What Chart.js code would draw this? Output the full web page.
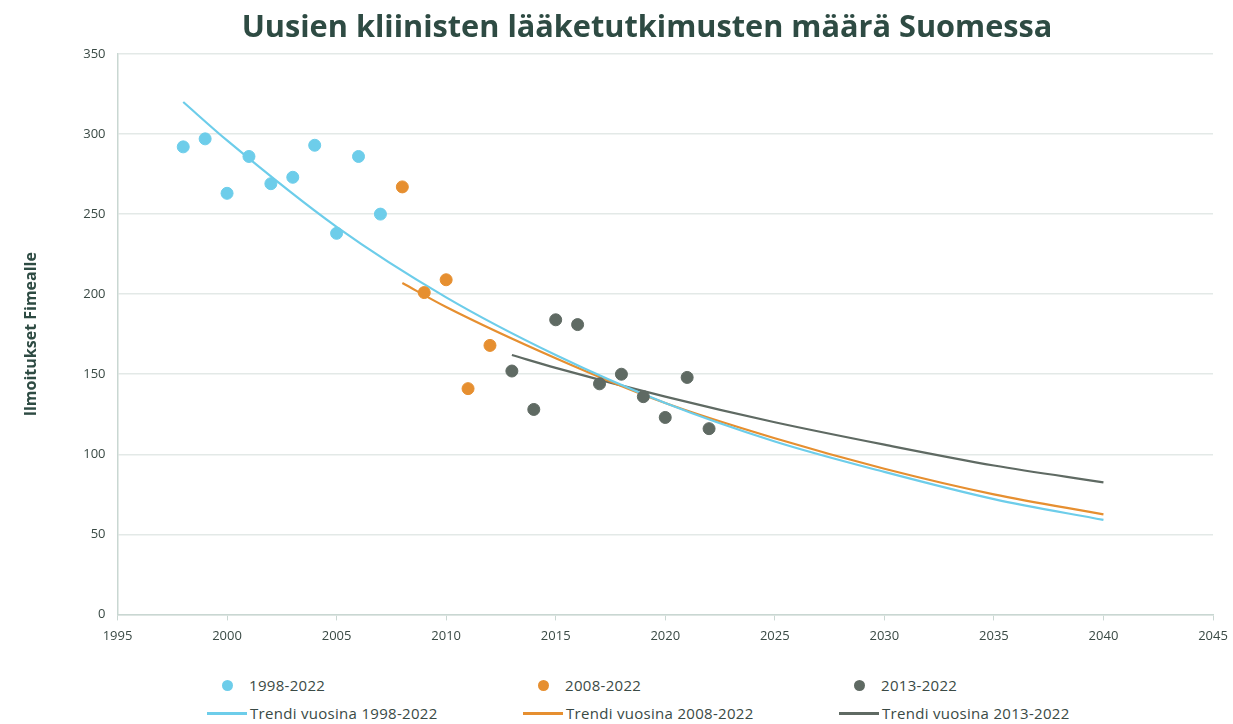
<!DOCTYPE html>
<html lang="fi">
<head>
    <meta charset="UTF-8">
    <meta name="viewport" content="width=device-width, initial-scale=1.0">
    <script src="https://cdn.jsdelivr.net/npm/chart.js"></script>
    <title>Kliiniset lääketutkimukset</title>
    <style>
        body { margin: 0; background: #fff; font-family: "Open Sans", sans-serif; }
        #wrap { position: relative; width: 1233px; height: 724px; }
        h1 {
            position: absolute; left: 0; top: 6px; width: 1233px; margin: 0;
            box-sizing: border-box; padding-left: 61px; text-align: center;
            font-size: 30.7px; line-height: 38px; font-weight: bold; color: #2e4b43;
        }
        #chart { position: absolute; left: 0; top: 0; width: 1233px; height: 652px; }
        #legend {
            position: absolute; left: 0; top: 674px; width: 1233px;
            display: grid; grid-template-columns: 316px 316px 316px;
            padding-left: 207px; row-gap: 6px;
            font-size: 15px; color: #3a4a45; letter-spacing: 0.3px;
        }
        .item { display: flex; align-items: center; height: 22px; }
        .dot { width: 11px; height: 11px; border-radius: 50%; margin: 0 16px 0 15px; }
        .line { width: 40px; height: 3px; margin-right: 3px; }
    </style>
</head>
<body>
<div id="wrap">
    <div id="chart"><canvas id="trialsChart"></canvas></div>
    <h1>Uusien kliinisten lääketutkimusten määrä Suomessa</h1>
    <div id="legend"></div>
</div>
<script>
    // havaitut vuosittaiset määrät
    const years98 = [1998, 1999, 2000, 2001, 2002, 2003, 2004, 2005, 2006, 2007]
    const counts98 = [292, 297, 263, 286, 269, 273, 293, 238, 286, 250]
    const years08 = [2008, 2009, 2010, 2011, 2012]
    const counts08 = [267, 201, 209, 141, 168]
    const years13 = [2013, 2014, 2015, 2016, 2017, 2018, 2019, 2020, 2021, 2022]
    const counts13 = [152, 128, 184, 181, 144, 150, 136, 123, 148, 116]

    // trendikäyrät luettu kuvasta
    const trendYears98 = [1998, 2000, 2005, 2010, 2015, 2020, 2025, 2030, 2035, 2040]
    const trend98 = [320, 296, 242, 198, 162, 132, 108, 89, 72, 59]
    const trendYears08 = [2008, 2010, 2015, 2020, 2025, 2030, 2035, 2040]
    const trend08 = [207, 192, 160, 132, 110, 91, 75, 62.5]
    const trendYears13 = [2013, 2015, 2020, 2025, 2030, 2035, 2040]
    const trend13 = [162, 154, 136, 120, 106, 93, 82.5]

    const xTicks = [1995, 2000, 2005, 2010, 2015, 2020, 2025, 2030, 2035, 2040, 2045]

    const blue = '#6dcdea'
    const orange = '#e68f30'
    const grey = '#5f6a63'
    const textColor = '#3a4a45'

    const pts = (xs, ys) => xs.map((x, i) => ({ x: x, y: ys[i] }))

    const ctx = document.getElementById("trialsChart").getContext("2d")
    const trialsChart = new Chart(ctx, {
        type: "scatter",
        data: {
            datasets: [
                { label: '1998-2022', data: pts(years98, counts98), backgroundColor: blue, borderColor: blue, pointRadius: 6, pointHoverRadius: 6, kind: 'dot' },
                { label: '2008-2022', data: pts(years08, counts08), backgroundColor: orange, borderColor: orange, pointRadius: 6, pointHoverRadius: 6, kind: 'dot' },
                { label: '2013-2022', data: pts(years13, counts13), backgroundColor: grey, borderColor: grey, pointRadius: 6, pointHoverRadius: 6, kind: 'dot' },
                { label: 'Trendi vuosina 1998-2022', data: pts(trendYears98, trend98), showLine: true, borderColor: blue, borderWidth: 2.2, pointRadius: 0, cubicInterpolationMode: 'monotone', kind: 'line' },
                { label: 'Trendi vuosina 2008-2022', data: pts(trendYears08, trend08), showLine: true, borderColor: orange, borderWidth: 2.2, pointRadius: 0, cubicInterpolationMode: 'monotone', kind: 'line' },
                { label: 'Trendi vuosina 2013-2022', data: pts(trendYears13, trend13), showLine: true, borderColor: grey, borderWidth: 2.2, pointRadius: 0, cubicInterpolationMode: 'monotone', kind: 'line' }
            ]
        },
        options: {
            responsive: true,
            maintainAspectRatio: false,
            animation: false,
            layout: { padding: { left: 18, right: 20, top: 54, bottom: 0 } },
            plugins: {
                legend: { display: false },
                tooltip: { enabled: false },
                title: { display: false }
            },
            scales: {
                x: {
                    type: 'linear',
                    min: 1995,
                    max: 2045,
                    afterBuildTicks: axis => { axis.ticks = xTicks.map(v => ({ value: v })) },
                    afterFit: axis => { axis.paddingRight = 0 },
                    grid: { drawOnChartArea: false, drawTicks: true, tickLength: 6, color: '#c9d7d2' },
                    border: { color: '#c9d7d2', width: 1.5 },
                    ticks: { color: textColor, font: { family: 'Open Sans', size: 13 }, padding: 8, maxRotation: 0, callback: v => String(v) }
                },
                y: {
                    min: 0,
                    max: 350,
                    ticks: { stepSize: 50, color: textColor, font: { family: 'Open Sans', size: 13 }, padding: 12 },
                    grid: { color: '#e3e9e7', lineWidth: 1.5, drawTicks: false },
                    border: { color: '#c9d7d2', width: 1.5 },
                    title: {
                        display: true,
                        text: 'Ilmoitukset Fimealle',
                        color: '#2e4b43',
                        font: { family: 'Open Sans', size: 16, weight: 'bold' },
                        padding: { bottom: 30 }
                    }
                }
            }
        }
    })

    // legenda kolmeen sarakkeeseen
    const legend = document.getElementById('legend')
    trialsChart.data.datasets.forEach(ds => {
        const item = document.createElement('div')
        item.className = 'item'
        const mark = document.createElement('span')
        mark.className = ds.kind === 'dot' ? 'dot' : 'line'
        mark.style.background = ds.borderColor
        item.appendChild(mark)
        item.appendChild(document.createTextNode(ds.label))
        legend.appendChild(item)
    })
</script>
</body>
</html>
